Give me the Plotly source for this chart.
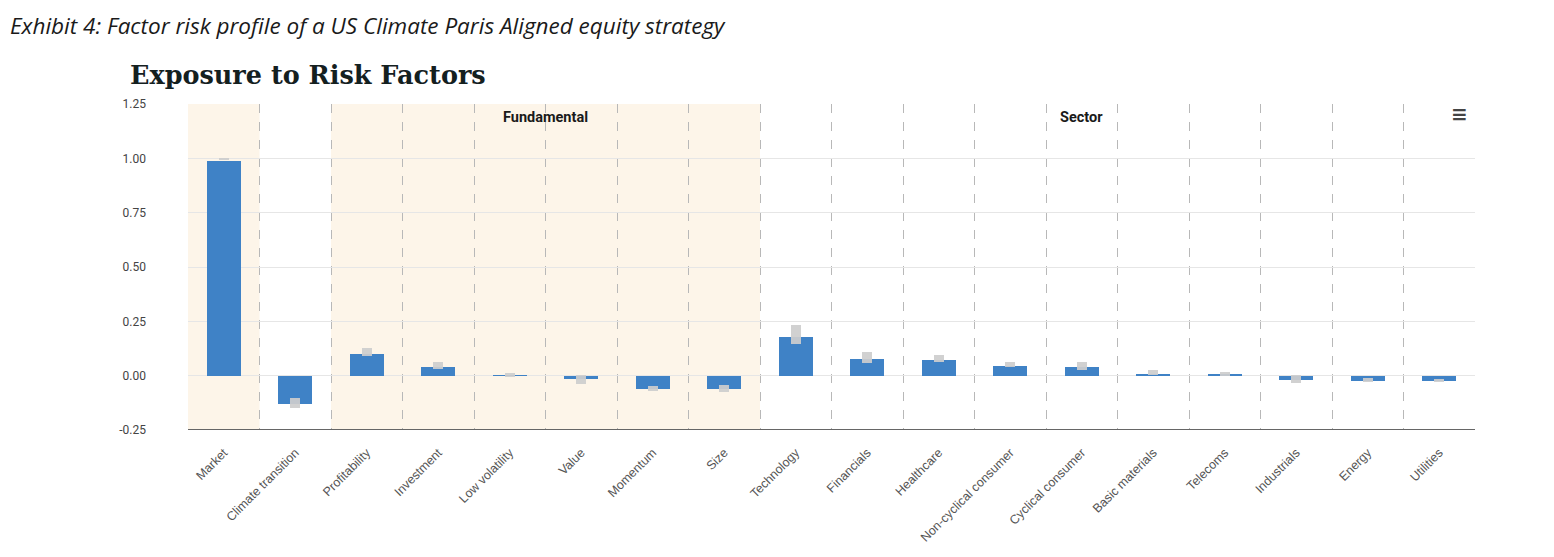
import plotly.graph_objects as go

categories = ["Market", "Climate transition", "Profitability", "Investment", "Low volatility",
              "Value", "Momentum", "Size", "Technology", "Financials", "Healthcare",
              "Non-cyclical consumer", "Cyclical consumer", "Basic materials", "Telecoms",
              "Industrials", "Energy", "Utilities"]
exposure = [0.99, -0.132, 0.10, 0.04, 0.002, -0.014, -0.061, -0.062, 0.180, 0.077, 0.073,
            0.046, 0.041, 0.009, 0.004, -0.020, -0.024, -0.026]
range_low = [0.993, -0.151, 0.092, 0.031, -0.006, -0.037, -0.069, -0.077, 0.144, 0.058, 0.063,
             0.040, 0.026, 0.001, 0.000, -0.035, -0.029, -0.031]
range_high = [1.003, -0.104, 0.127, 0.063, 0.012, 0.001, -0.049, -0.044, 0.234, 0.107, 0.095,
              0.063, 0.063, 0.026, 0.018, 0.003, -0.012, -0.014]
y_ticks = [-0.25, 0.0, 0.25, 0.5, 0.75, 1.0, 1.25]
y_tick_labels = ["-0.25", "0.00", "0.25", "0.50", "0.75", "1.00", "1.25"]
groups = [("Fundamental", 4.5), ("Sector", 12)]
shaded_bands = [(-0.5, 0.5), (1.5, 7.5)]

n = len(categories)
xs = list(range(n))

ML, MT = 180, 96

fig = go.Figure()
fig.add_trace(go.Bar(
    x=xs, y=exposure, width=0.47,
    marker=dict(color="#3F82C6", line=dict(width=0), cornerradius=3),
    hoverinfo="skip", showlegend=False,
))
fig.add_trace(go.Bar(
    x=xs, y=[h - l for h, l in zip(range_high, range_low)], base=range_low, width=0.14,
    marker=dict(color="rgba(205,205,205,0.92)", line=dict(width=0)),
    hoverinfo="skip", showlegend=False,
))

for x0, x1 in shaded_bands:
    fig.add_vrect(x0=x0, x1=x1, fillcolor="#FDF5E9", line_width=0, layer="below")

for name, xc in groups:
    fig.add_annotation(x=xc, y=1.0, xref="x", yref="paper", yanchor="top", yshift=-3,
                       text="<b>" + name + "</b>", showarrow=False,
                       font=dict(family="Roboto, Arial", size=14.5, color="#1a1a1a"))

fig.add_annotation(x=0.0, y=1.0, xref="paper", yref="paper", xanchor="left", yanchor="top",
                   xshift=-ML, yshift=MT,
                   text="<i>Exhibit 4: Factor risk profile of a US Climate Paris Aligned equity strategy</i>",
                   showarrow=False,
                   font=dict(family="Open Sans", size=22.5, color="#1a1a1a"))
fig.add_annotation(x=0.0, y=1.0, xref="paper", yref="paper", xanchor="left", yanchor="top",
                   xshift=-ML + 120, yshift=MT - 50,
                   text="<b>Exposure to Risk Factors</b>", showarrow=False,
                   font=dict(family="DejaVu Serif", size=25.5, color="#14201f"))
fig.add_annotation(x=1.0, y=1.0, xref="paper", yref="paper", xanchor="right", yanchor="top",
                   xshift=-5, yshift=4,
                   text="<b>≡</b>", showarrow=False,
                   font=dict(family="DejaVu Sans", size=20, color="#444444"))

fig.update_layout(
    width=1538, height=541,
    margin=dict(l=ML, r=71, t=MT, b=119, autoexpand=False),
    paper_bgcolor="white", plot_bgcolor="rgba(0,0,0,0)",
    barmode="overlay", bargap=0,
    font=dict(family="Roboto, Arial", color="#444444"),
)
fig.update_xaxes(
    range=[-0.5, n - 0.5], automargin=False,
    tickmode="array", tickvals=xs, ticktext=categories,
    tickangle=-45, tickfont=dict(size=12.5, color="#555555", family="Arial"),
    ticklabelstandoff=12,
    showgrid=False, zeroline=False,
    showline=False, ticks="",
    minor=dict(tickmode="array", tickvals=[i + 0.5 for i in range(n - 1)],
               showgrid=True, griddash="dash", gridcolor="#b8b8b8", gridwidth=1, ticks=""),
)
fig.update_yaxes(
    range=[-0.25, 1.25], automargin=False,
    tickmode="array", tickvals=y_ticks, ticktext=y_tick_labels,
    tickfont=dict(size=12, color="#444444", family="Roboto, Arial"),
    showgrid=True, gridcolor="#e6e6e6", gridwidth=1,
    zeroline=True, zerolinecolor="#e6e6e6", zerolinewidth=1,
    ticks="", ticklabelstandoff=41,
)
fig.add_hline(y=-0.25, line=dict(color="#666666", width=2), layer="above")

fig.write_html("out.html")
